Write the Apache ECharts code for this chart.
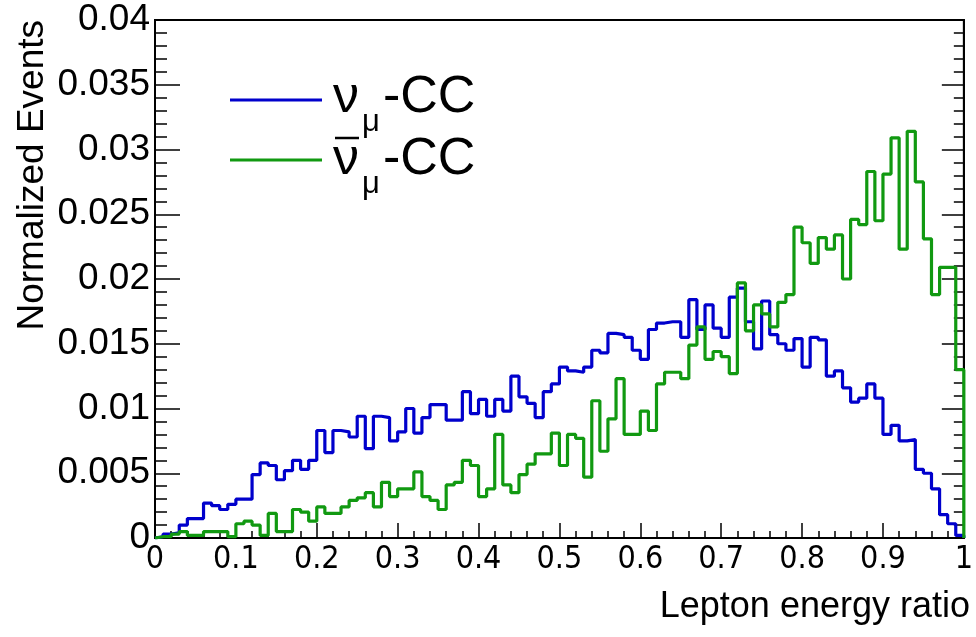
<!DOCTYPE html>
<html>
<head>
<meta charset="utf-8">
<script src="https://cdn.jsdelivr.net/npm/echarts@6/dist/echarts.min.js"></script>
<style>
html,body{margin:0;padding:0;background:#fff;}
#chart{width:976px;height:637px;}
</style>
</head>
<body>
<div id="chart"></div>
<script>
// ---- data (100 bins on [0,1]) ----
const binWidth = 0.01;
const xRange = [0, 1];
const yRange = [0, 0.04];
const xTickStep = 0.1;
const yTickStep = 0.005;

const numuCC = [
  0.0001,0.0003,0.0004,0.0010,0.0015,0.0015,0.0027,0.0025,0.0022,0.0026,
  0.0030,0.0030,0.0049,0.0058,0.0056,0.0045,0.0052,0.0060,0.0053,0.0060,
  0.0083,0.0066,0.0083,0.0082,0.0078,0.0094,0.0069,0.0094,0.0093,0.0075,
  0.0082,0.0100,0.0081,0.0093,0.0103,0.0103,0.0091,0.0091,0.0113,0.0096,
  0.0107,0.0094,0.0107,0.0098,0.0125,0.0109,0.0104,0.0093,0.0113,0.0119,
  0.0132,0.0129,0.0128,0.0132,0.0145,0.0143,0.0158,0.0157,0.0155,0.0145,
  0.0138,0.0161,0.0166,0.0167,0.0167,0.0155,0.0184,0.0161,0.0180,0.0162,
  0.0155,0.0186,0.0193,0.0167,0.0146,0.0183,0.0157,0.0150,0.0145,0.0154,
  0.0132,0.0155,0.0153,0.0125,0.0129,0.0116,0.0105,0.0108,0.0119,0.0108,
  0.0080,0.0087,0.0075,0.0076,0.0053,0.0050,0.0038,0.0018,0.0011,0.0002
];

const numubarCC = [
  0.0001,0.0001,0.0003,0.0005,0.0002,0.0002,0.0005,0.0005,0.0005,0.0001,
  0.0011,0.0013,0.0010,0.0002,0.0019,0.0005,0.0005,0.0022,0.0020,0.0013,
  0.0024,0.0019,0.0019,0.0024,0.0029,0.0031,0.0035,0.0024,0.0043,0.0032,
  0.0038,0.0038,0.0051,0.0032,0.0029,0.0022,0.0041,0.0043,0.0060,0.0056,
  0.0032,0.0038,0.0080,0.0041,0.0035,0.0049,0.0057,0.0065,0.0065,0.0081,
  0.0056,0.0080,0.0077,0.0047,0.0106,0.0067,0.0092,0.0123,0.0080,0.0080,
  0.0098,0.0083,0.0119,0.0128,0.0128,0.0123,0.0149,0.0163,0.0138,0.0144,
  0.0140,0.0127,0.0197,0.0160,0.0180,0.0173,0.0163,0.0182,0.0188,0.0240,
  0.0228,0.0212,0.0232,0.0223,0.0234,0.0200,0.0246,0.0242,0.0283,0.0245,
  0.0281,0.0309,0.0223,0.0314,0.0275,0.0231,0.0188,0.0209,0.0209,0.0130
];

const seriesNames = ['νμ-CC', 'ν̄μ-CC'];
const seriesColors = ['#0000cc', '#119911'];
const xTitle = 'Lepton energy ratio';
const yTitle = 'Normalized Events';

// ---- build step outline (ROOT "HIST" style) ----
function histOutline(vals) {
  const pts = [[xRange[0], 0]];
  vals.forEach((v, i) => pts.push([xRange[0] + i * binWidth, v]));
  pts.push([xRange[1], vals[vals.length - 1]]);
  pts.push([xRange[1], 0]);
  return pts;
}

const chart = echarts.init(document.getElementById('chart'), null, {renderer: 'canvas'});

const gridL = 155, gridR = 6, gridT = 20, gridB = 99;
const font = 'Liberation Sans, Arial, Helvetica, sans-serif';
const legFont = '52px ' + font;
const subFont = '31px ' + font;

const option = {
  animation: false,
  backgroundColor: '#fff',
  grid: {left: gridL, right: gridR, top: gridT, bottom: gridB, show: true,
         borderColor: '#000', borderWidth: 2, backgroundColor: 'transparent'},
  xAxis: [{
    type: 'value', min: xRange[0], max: xRange[1], interval: xTickStep,
    axisLine: {show: true, onZero: false, lineStyle: {color: '#000', width: 2}},
    axisTick: {show: true, inside: true, length: 15, lineStyle: {color: '#000', width: 1.5}},
    minorTick: {show: true, splitNumber: 5, length: 7, lineStyle: {color: '#000', width: 1.5}},
    splitLine: {show: false},
    axisLabel: {color: '#000', fontSize: 32, fontFamily: 'Liberation Sans Narrow, DejaVu Sans Condensed, sans-serif', margin: 6}
  }],
  yAxis: [{
    type: 'value', min: yRange[0], max: yRange[1], interval: yTickStep,
    axisLine: {show: true, onZero: false, lineStyle: {color: '#000', width: 2}},
    axisTick: {show: true, inside: true, length: 25, lineStyle: {color: '#000', width: 1.5}},
    minorTick: {show: true, splitNumber: 5, length: 12, lineStyle: {color: '#000', width: 1.5}},
    splitLine: {show: false},
    axisLabel: {color: '#000', fontSize: 37, fontFamily: font, margin: 5}
  }, {
    type: 'value', position: 'right', min: yRange[0], max: yRange[1], interval: yTickStep,
    axisLine: {show: true, onZero: false, lineStyle: {color: '#000', width: 2}},
    axisTick: {show: true, inside: true, length: 22, lineStyle: {color: '#000', width: 1.5}},
    minorTick: {show: true, splitNumber: 5, length: 10, lineStyle: {color: '#000', width: 1.5}},
    splitLine: {show: false},
    axisLabel: {show: false}
  }],
  series: [numuCC, numubarCC].map((vals, k) => ({
    name: seriesNames[k],
    type: 'line',
    step: 'end',
    showSymbol: false,
    symbol: 'none',
    xAxisIndex: 0, yAxisIndex: 0,
    data: histOutline(vals),
    lineStyle: {color: seriesColors[k], width: 3.2},
    itemStyle: {color: seriesColors[k]},
    z: 3 + k
  })),
  graphic: [
    // y title
    {type: 'text', x: 33, y: 20, rotation: Math.PI / 2,
     style: {text: yTitle, fill: '#000', font: '37px ' + font, align: 'right', verticalAlign: 'middle'}},
    // x title
    {type: 'text', x: 970, y: 607,
     style: {text: xTitle, fill: '#000', font: '36px ' + font, align: 'right', verticalAlign: 'middle'}},
    // legend entry 1
    {type: 'line', shape: {x1: 230, y1: 100, x2: 322, y2: 100}, style: {stroke: seriesColors[0], lineWidth: 3.2}},
    {type: 'text', x: 333, y: 98, style: {text: 'ν', fill: '#000', font: legFont, align: 'left', verticalAlign: 'middle'}},
    {type: 'text', x: 362, y: 122, style: {text: 'μ', fill: '#000', font: subFont, align: 'left', verticalAlign: 'middle'}},
    {type: 'text', x: 383, y: 98, style: {text: '-CC', fill: '#000', font: legFont, align: 'left', verticalAlign: 'middle'}},
    // legend entry 2
    {type: 'line', shape: {x1: 230, y1: 160, x2: 322, y2: 160}, style: {stroke: seriesColors[1], lineWidth: 3.2}},
    {type: 'line', shape: {x1: 335, y1: 138, x2: 359, y2: 138}, style: {stroke: '#000', lineWidth: 2.5}},
    {type: 'text', x: 333, y: 160, style: {text: 'ν', fill: '#000', font: legFont, align: 'left', verticalAlign: 'middle'}},
    {type: 'text', x: 362, y: 184, style: {text: 'μ', fill: '#000', font: subFont, align: 'left', verticalAlign: 'middle'}},
    {type: 'text', x: 383, y: 160, style: {text: '-CC', fill: '#000', font: legFont, align: 'left', verticalAlign: 'middle'}}
  ]
};

chart.setOption(option);
</script>
</body>
</html>
